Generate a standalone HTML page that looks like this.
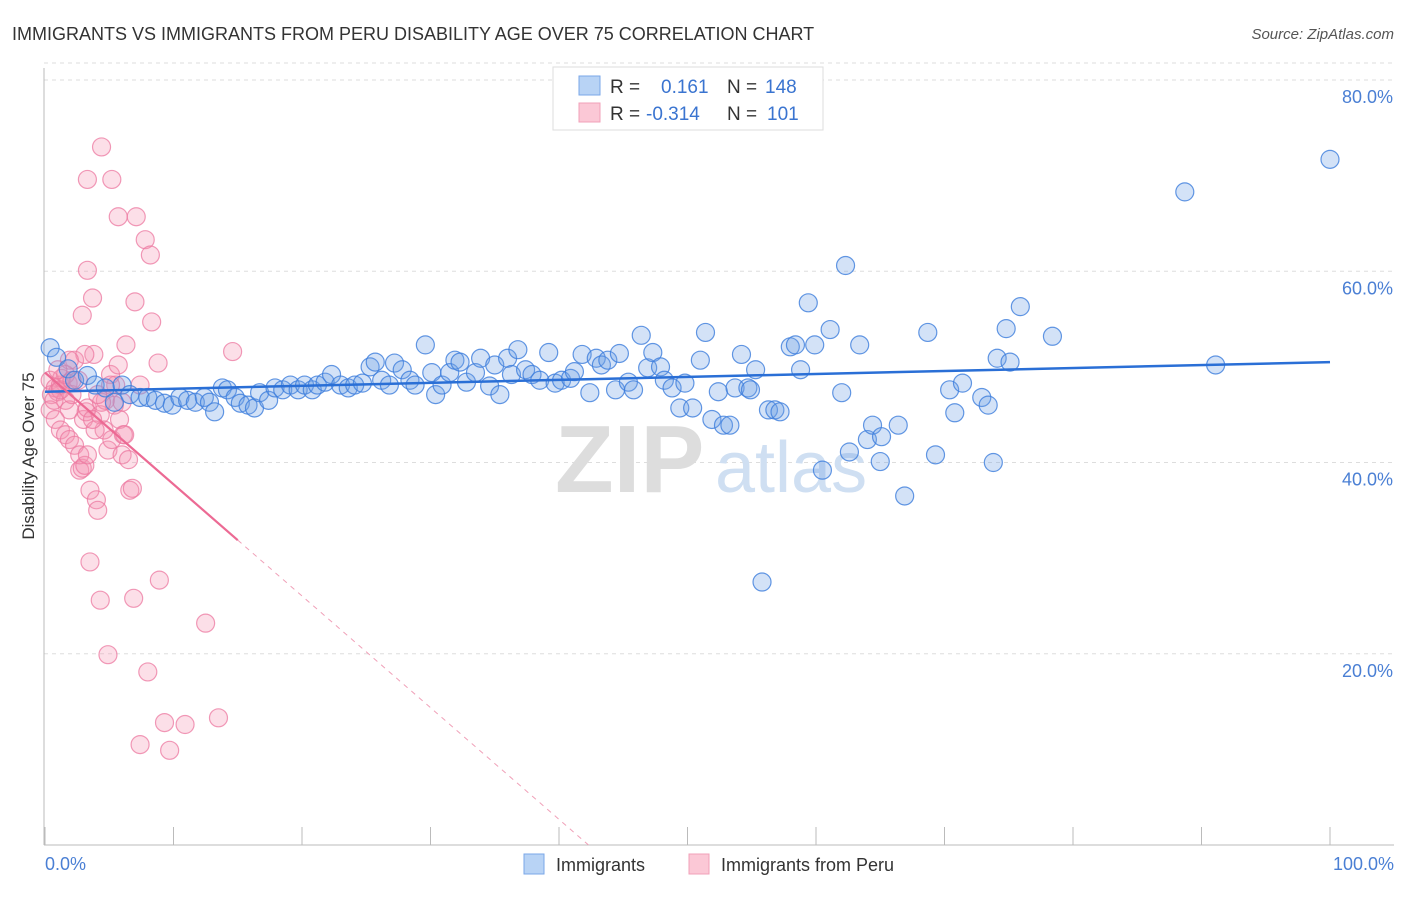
<!DOCTYPE html>
<html><head><meta charset="utf-8"><style>
body{margin:0;background:#fff;font-family:"Liberation Sans",sans-serif}
svg text{font-family:"Liberation Sans",sans-serif}
</style></head><body>
<svg id="chart" width="1406" height="892" viewBox="0 0 1406 892" xmlns="http://www.w3.org/2000/svg">
<text x="12" y="40" font-size="18" fill="#333">IMMIGRANTS VS IMMIGRANTS FROM PERU DISABILITY AGE OVER 75 CORRELATION CHART</text>
<text x="1394" y="39" font-size="15" fill="#555" font-style="italic" text-anchor="end">Source: ZipAtlas.com</text>
<g id="grid"></g>
<text x="555" y="492" font-size="96" fill="#ddd" font-family="Liberation Serif" font-weight="bold">ZIP</text>
<text x="715" y="492" font-size="72" fill="#cfdff2">atlas</text>
<line x1="44" y1="68" x2="44" y2="845" stroke="#bbb"/>
<line x1="44" y1="845" x2="1394" y2="845" stroke="#bbb"/>
<g id="ticks"></g>
<text transform="translate(34,456) rotate(-90)" font-size="17" fill="#333" text-anchor="middle">Disability Age Over 75</text>
<text x="45" y="870" font-size="18" fill="#4a7fd4">0.0%</text>
<text x="1394" y="870" font-size="18" fill="#4a7fd4" text-anchor="end">100.0%</text>
<g id="points"></g>
<g id="lines"></g>
<g>
<rect x="553" y="67" width="270" height="63" fill="#fff" stroke="#ddd"/>
<rect x="579" y="76" width="21" height="19" fill="#b8d3f5" stroke="#7aa7e8"/>
<rect x="579" y="103" width="21" height="19" fill="#fbc8d6" stroke="#f2a0b8"/>
<text x="610" y="93" font-size="19" fill="#333">R =</text>
<text x="661" y="93" font-size="19" fill="#3a74d0">0.161</text>
<text x="727" y="93" font-size="19" fill="#333">N =</text>
<text x="765" y="93" font-size="19" fill="#3a74d0">148</text>
<text x="610" y="120" font-size="19" fill="#333">R =</text>
<text x="646" y="120" font-size="19" fill="#3a74d0">-0.314</text>
<text x="727" y="120" font-size="19" fill="#333">N =</text>
<text x="767" y="120" font-size="19" fill="#3a74d0">101</text>
</g>
<g>
<rect x="524" y="854" width="20" height="20" fill="#b8d3f5" stroke="#7aa7e8"/>
<text x="556" y="871" font-size="18" fill="#333">Immigrants</text>
<rect x="689" y="854" width="20" height="20" fill="#fbc8d6" stroke="#f2a0b8"/>
<text x="721" y="871" font-size="18" fill="#333">Immigrants from Peru</text>
</g>
</svg>
<script>
const yTicks=[20,40,60,80];
const yTickLabels=["20.0%","40.0%","60.0%","80.0%"];
const xTicks=[0,10,20,30,40,50,60,70,80,90,100];
const blueX=[0.4,0.9,1.8,2.3,3.3,3.9,4.7,5.4,6.0,6.6,7.4,8.0,8.6,9.3,9.9,10.5,11.1,11.7,12.4,12.8,13.2,13.8,14.2,14.8,15.2,15.8,16.3,16.7,17.4,17.9,18.5,19.1,19.7,20.2,20.8,21.2,21.8,22.3,23.0,23.6,24.1,24.7,25.3,25.7,26.2,26.8,27.2,27.8,28.4,28.8,29.6,30.1,30.4,30.9,31.5,31.9,32.3,32.8,33.5,33.9,34.6,35.0,35.4,36.0,36.3,36.8,37.4,37.9,38.5,39.2,39.7,40.2,40.9,41.2,41.8,42.4,42.9,43.3,43.8,44.4,44.7,45.4,45.8,46.4,46.9,47.3,47.9,48.2,48.8,49.4,49.8,50.4,51.0,51.4,51.9,52.4,52.8,53.3,53.7,54.2,54.7,54.9,55.3,55.8,56.3,56.8,57.2,58.0,58.4,58.8,59.4,59.9,60.5,61.1,62.0,62.3,62.6,63.4,64.0,64.4,65.0,65.1,66.4,66.9,68.7,69.3,70.4,70.8,71.4,72.9,73.4,73.8,74.1,74.8,75.1,75.9,78.4,88.7,91.1,100];
const blueY=[52.0,51.0,49.8,48.6,49.1,48.1,47.8,46.3,48.1,47.1,46.8,46.8,46.5,46.2,46.0,46.8,46.5,46.3,46.8,46.3,45.3,47.8,47.6,46.8,46.2,46.0,45.7,47.3,46.5,47.8,47.6,48.1,47.6,48.1,47.6,48.1,48.4,49.2,48.1,47.8,48.1,48.3,50.0,50.5,48.6,48.1,50.4,49.7,48.6,48.1,52.3,49.4,47.1,48.1,49.4,50.7,50.5,48.4,49.4,50.9,48.0,50.2,47.1,50.9,49.2,51.8,49.7,49.2,48.6,51.5,48.3,48.6,48.8,49.5,51.3,47.3,50.9,50.2,50.7,47.6,51.4,48.4,47.6,53.3,49.9,51.5,50.0,48.6,47.8,45.7,48.3,45.7,50.7,53.6,44.5,47.4,43.9,43.9,47.8,51.3,47.8,47.6,49.7,27.5,45.5,45.5,45.3,52.1,52.3,49.7,56.7,52.3,39.2,53.9,47.3,60.6,41.1,52.3,42.4,43.9,40.1,42.7,43.9,36.5,53.6,40.8,47.6,45.2,48.3,46.8,46.0,40.0,50.9,54.0,50.5,56.3,53.2,68.3,50.2,71.7];
const peruX=[0.4,0.5,0.8,1.0,1.2,1.3,1.6,1.8,1.9,2.1,2.3,2.6,2.7,2.9,3.0,3.2,3.3,3.5,3.7,3.8,4.0,4.1,4.3,4.4,4.6,4.7,4.9,5.1,5.2,5.4,5.5,5.7,5.8,6.0,6.1,6.3,6.5,6.6,6.8,7.0,7.4,7.8,8.2,8.3,8.8,8.9,9.3,9.7,10.9,12.5,13.5,14.6,0.4,0.8,1.2,1.6,1.9,2.3,2.7,3.1,1.2,1.6,2.1,3.3,5.2,5.7,7.1,3.5,4.3,4.9,6.9,7.4,8.0,4.4,3.9,6.2,3.1,2.9,1.9,1.0,0.7,3.3,3.7,5.1,4.1,3.3,6.0];
const peruY=[48.6,47.1,47.8,47.4,48.1,48.8,46.5,48.3,45.5,47.1,50.7,48.6,39.2,39.4,44.5,45.3,45.7,37.1,57.2,51.3,36.1,35.0,45.0,73.0,43.4,46.5,41.3,49.2,42.4,46.0,48.1,50.2,44.5,40.8,42.9,52.3,40.3,37.1,37.3,56.8,48.1,63.3,61.7,54.7,50.4,27.7,12.8,9.9,12.6,23.2,13.3,51.6,45.5,44.5,43.4,42.9,42.4,41.8,40.8,39.7,47.6,49.2,48.6,69.6,69.6,65.7,65.7,29.6,25.6,19.9,25.8,10.5,18.1,46.3,43.4,42.9,51.3,55.4,50.7,49.7,46.5,40.8,44.5,48.1,47.1,60.1,46.3];
const blueTrend=[47.4,50.5];
const peruTrend=[49.4,-1.168];
const NS="http://www.w3.org/2000/svg";
const sx=v=>45+v*12.85;
const sy=v=>845-v*9.5625;
function mk(tag,attrs,parent){const e=document.createElementNS(NS,tag);for(const k in attrs)e.setAttribute(k,attrs[k]);parent.appendChild(e);return e;}
const grid=document.getElementById('grid'),ticks=document.getElementById('ticks'),pts=document.getElementById('points'),lines=document.getElementById('lines');
yTicks.forEach((t,i)=>{
 const l=mk('line',{x1:44,x2:1394,y1:sy(t),y2:sy(t),stroke:'#ddd','stroke-dasharray':'4,4'},grid);
 
 
 const tx=mk('text',{x:1393,y:sy(t)+23,'font-size':18,fill:'#4a7fd4','text-anchor':'end'},grid);
 tx.textContent=yTickLabels[i];
 
 
});
const topLine=mk('line',{x1:44,x2:1394,y1:sy(80)-17,y2:sy(80)-17,stroke:'#ddd','stroke-dasharray':'4,4'},grid);


xTicks.forEach(t=>{
 const l=mk('line',{x1:sx(t),x2:sx(t),y1:827,y2:845,stroke:'#bbb'},ticks);
 
 
});
function drawPts(xs,ys,fill,stroke,name){
 const n=Math.min(xs.length,ys.length);
 for(let i=0;i<n;i++){
  const c=mk('circle',{cx:sx(xs[i]),cy:sy(ys[i]),r:9,fill:fill,stroke:stroke,'stroke-width':1.2},pts);
  
  
 }
}
drawPts(peruX,peruY,'rgba(244,150,180,0.3)','rgba(236,120,160,0.75)','peru-point');
drawPts(blueX,blueY,'rgba(110,160,230,0.3)','rgba(60,125,220,0.8)','immigrants-point');
const bl=mk('line',{x1:sx(0),y1:sy(blueTrend[0]),x2:sx(100),y2:sy(blueTrend[1]),stroke:'#2a6fd6','stroke-width':2.5},lines);


const pf=x=>peruTrend[0]+peruTrend[1]*x;
const pl=mk('line',{x1:sx(0),y1:sy(pf(0)),x2:sx(15),y2:sy(pf(15)),stroke:'#ec6a94','stroke-width':2.2},lines);


const xe=-peruTrend[0]/peruTrend[1];
const pd=mk('line',{x1:sx(15),y1:sy(pf(15)),x2:sx(xe),y2:sy(0),stroke:'#f0a0b8','stroke-width':1,'stroke-dasharray':'5,5'},lines);


</script>
</body></html>
